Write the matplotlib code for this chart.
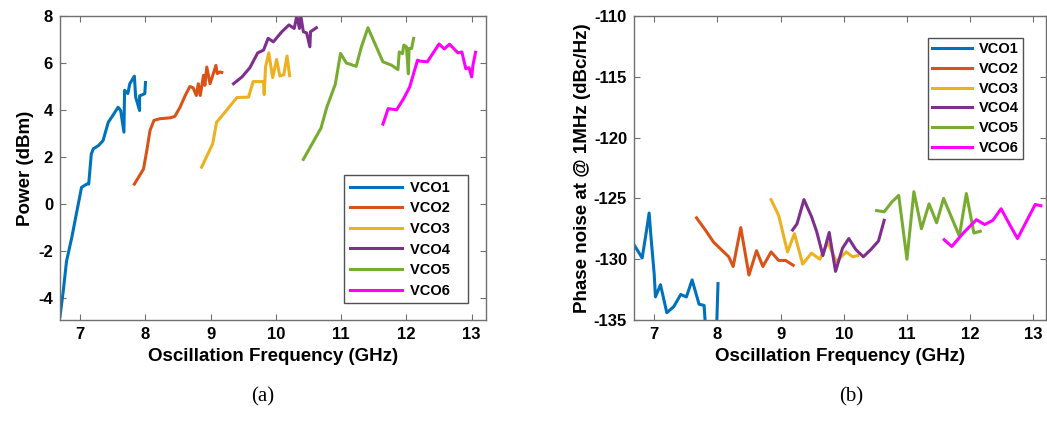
import matplotlib
matplotlib.use("Agg")
import matplotlib.pyplot as plt

plt.rcParams['font.family'] = ['Liberation Sans', 'DejaVu Sans']
plt.rcParams['font.weight'] = 'bold'
plt.rcParams['axes.unicode_minus'] = False

labels = ['VCO1', 'VCO2', 'VCO3', 'VCO4', 'VCO5', 'VCO6']
colors = ['#0072BD', '#D95319', '#EDB120', '#7E2F8E', '#77AC30', '#FF00FF']

# (a) output power vs frequency
f1 = [6.69, 6.74, 6.79, 6.87, 6.94, 7.02, 7.10, 7.13, 7.17, 7.20, 7.28, 7.35, 7.43, 7.50,
      7.58, 7.62, 7.67, 7.68, 7.73, 7.76, 7.83, 7.85, 7.91, 7.91, 7.99, 8.00]
p1 = [-4.78, -3.70, -2.43, -1.43, -0.43, 0.71, 0.85, 0.85, 2.13, 2.35, 2.49, 2.70, 3.48, 3.77,
      4.12, 3.98, 3.06, 4.84, 4.70, 5.12, 5.44, 4.55, 3.98, 4.60, 4.70, 5.17]
f2 = [7.83, 7.97, 8.02, 8.07, 8.13, 8.22, 8.38, 8.45, 8.53, 8.61, 8.68, 8.73, 8.78, 8.81,
      8.84, 8.89, 8.91, 8.94, 8.99, 9.04, 9.08, 9.10, 9.14, 9.17]
p2 = [0.85, 1.49, 2.27, 3.13, 3.56, 3.63, 3.67, 3.73, 4.12, 4.62, 5.00, 4.95, 4.62, 5.12,
      4.62, 5.48, 5.05, 5.83, 5.12, 5.55, 5.90, 5.55, 5.62, 5.60]
f3 = [8.86, 9.03, 9.09, 9.22, 9.40, 9.58, 9.65, 9.81, 9.82, 9.84, 9.89, 9.95, 10.01, 10.06,
      10.12, 10.17, 10.21]
p3 = [1.57, 2.56, 3.48, 3.91, 4.53, 4.55, 5.21, 5.21, 4.66, 5.83, 6.43, 5.38, 6.15, 5.45,
      5.50, 6.30, 5.46]
f4 = [9.35, 9.48, 9.60, 9.72, 9.81, 9.88, 9.96, 10.09, 10.20, 10.28, 10.32, 10.36, 10.38,
      10.42, 10.47, 10.52, 10.53, 10.62]
p4 = [5.12, 5.41, 5.80, 6.43, 6.55, 7.05, 6.90, 7.33, 7.62, 7.47, 8.00, 7.47, 8.02, 7.33,
      7.28, 6.69, 7.33, 7.50]
f5 = [10.42, 10.69, 10.78, 10.91, 10.99, 11.08, 11.23, 11.31, 11.41, 11.64, 11.77, 11.87,
      11.89, 11.94, 11.96, 12.00, 12.03, 12.04, 12.08, 12.11]
p5 = [1.90, 3.23, 4.12, 5.10, 6.41, 6.00, 5.86, 6.69, 7.50, 6.05, 5.91, 5.72, 6.47, 6.40,
      6.76, 6.69, 5.54, 6.62, 6.62, 7.05]
f6 = [11.64, 11.72, 11.85, 11.96, 12.05, 12.17, 12.21, 12.32, 12.50, 12.58, 12.66, 12.79,
      12.85, 12.91, 12.96, 13.00, 13.02, 13.06]
p6 = [3.40, 4.06, 4.01, 4.50, 4.98, 6.12, 6.08, 6.05, 6.81, 6.60, 6.80, 6.43, 6.47, 5.76,
      5.80, 5.41, 5.91, 6.46]

# (b) phase noise at 1 MHz offset vs frequency
g1 = [6.68, 6.81, 6.88, 6.92, 6.95, 7.00, 7.02, 7.10, 7.20, 7.31, 7.42, 7.51, 7.60, 7.71,
      7.79, 7.83, 7.98, 8.01]
n1 = [-128.8, -129.9, -127.6, -126.2, -128.2, -131.2, -133.1, -132.1, -134.4, -133.9,
      -132.9, -133.1, -131.7, -133.7, -133.8, -137.0, -137.0, -132.0]
g2 = [7.67, 7.81, 7.94, 8.07, 8.18, 8.25, 8.37, 8.50, 8.62, 8.72, 8.85, 8.97, 9.08, 9.20]
n2 = [-126.6, -127.6, -128.6, -129.25, -129.8, -130.6, -127.4, -131.3, -129.3, -130.6,
      -129.4, -130.1, -130.1, -130.5]
g3 = [8.85, 8.97, 9.11, 9.22, 9.35, 9.49, 9.62, 9.75, 9.88, 10.04, 10.14, 10.22]
n3 = [-125.1, -126.4, -129.4, -127.9, -130.4, -129.5, -130.0, -128.6, -130.2, -129.4,
      -129.8, -129.7]
g4 = [9.19, 9.26, 9.37, 9.49, 9.57, 9.67, 9.77, 9.87, 9.98, 10.08, 10.19, 10.31, 10.43,
      10.55, 10.64]
n4 = [-127.6, -127.1, -125.1, -126.5, -127.7, -129.7, -127.8, -131.0, -129.1, -128.3,
      -129.2, -129.8, -129.2, -128.5, -126.8]
g5 = [10.52, 10.64, 10.76, 10.87, 11.00, 11.11, 11.23, 11.35, 11.47, 11.58, 11.83, 11.94,
      12.06, 12.16]
n5 = [-126.0, -126.1, -125.3, -124.75, -130.0, -124.45, -127.5, -125.45, -127.0, -125.0,
      -128.1, -124.6, -127.85, -127.7]
g6 = [11.59, 11.71, 11.90, 12.10, 12.23, 12.36, 12.49, 12.62, 12.75, 12.90, 13.03, 13.12]
n6 = [-128.4, -128.95, -127.8, -126.75, -127.15, -126.8, -125.85, -127.1, -128.3, -126.8,
      -125.5, -125.6]

xtick_vals = [7, 8, 9, 10, 11, 12, 13]
power_ticks = [-4, -2, 0, 2, 4, 6, 8]
pn_ticks = [-135, -130, -125, -120, -115, -110]

fig = plt.figure(figsize=(10.47, 4.37), dpi=100)
ax1 = fig.add_axes([0.0573, 0.2677, 0.4069, 0.6957])
ax2 = fig.add_axes([0.6055, 0.2677, 0.3935, 0.6957])

for f, p, c, lab in zip([f1, f2, f3, f4, f5, f6], [p1, p2, p3, p4, p5, p6], colors, labels):
    ax1.plot(f, p, color=c, lw=2.2, label=lab + '   ')
for g, n, c, lab in zip([g1, g2, g3, g4, g5, g6], [n1, n2, n3, n4, n5, n6], colors, labels):
    ax2.plot(g, n, color=c, lw=2.2, label=lab)

ax1.set_xlim(6.69, 13.22)
ax1.set_ylim(-4.93, 8)
ax1.set_yticks(power_ticks)
ax1.set_ylabel('Power (dBm)', fontsize=13.5, fontweight='bold', labelpad=3)

ax2.set_xlim(6.68, 13.2)
ax2.set_ylim(-135, -110)
ax2.set_yticks(pn_ticks)
ax2.set_ylabel('Phase noise at @ 1MHz (dBc/Hz)', fontsize=13.5, fontweight='bold', labelpad=2)

for ax in (ax1, ax2):
    ax.set_xticks(xtick_vals)
    ax.set_xlabel('Oscillation Frequency (GHz)', fontsize=13.5, fontweight='bold', labelpad=4)
    ax.tick_params(direction='in', top=True, right=True, labelsize=12, length=4,
                   width=0.8, color='#707070', pad=5)
    for s in ax.spines.values():
        s.set_color('#707070')
        s.set_linewidth(1.0)

leg1 = ax1.legend(loc='upper left', bbox_to_anchor=(0.667, 0.477), fontsize=10.5,
                  handlelength=3.6, labelspacing=0.45, borderaxespad=0, frameon=True,
                  fancybox=False, edgecolor='#262626', borderpad=0.4, handletextpad=0.5)
leg2 = ax2.legend(loc='upper left', bbox_to_anchor=(0.714, 0.929), fontsize=10.5,
                  handlelength=2.7, labelspacing=0.4, borderaxespad=0, frameon=True,
                  fancybox=False, edgecolor='#262626', borderpad=0.3, handletextpad=0.45)
for leg in (leg1, leg2):
    leg.get_frame().set_linewidth(1.0)

fig.text(0.251, 0.092, '(a)', ha='center', va='center', fontsize=15,
         family=['Liberation Serif'], fontweight='normal')
fig.text(0.813, 0.092, '(b)', ha='center', va='center', fontsize=15,
         family=['Liberation Serif'], fontweight='normal')

fig.savefig('out.png', dpi=100)
